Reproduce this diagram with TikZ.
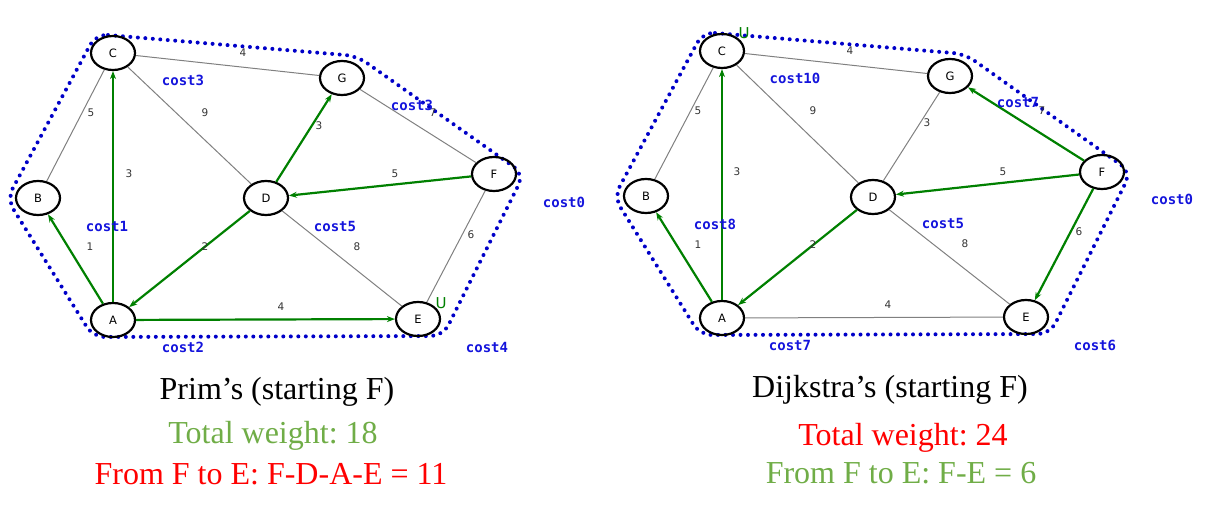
\documentclass[tikz,border=0pt]{standalone}
\usepackage{fontspec}
\setmainfont{Liberation Serif}
\newfontfamily\nodefont{DejaVu Sans}
\newfontfamily\costfont{DejaVu Sans Mono}
\usetikzlibrary{shapes.geometric,arrows.meta}
\definecolor{treegreen}{RGB}{0,128,0}
\definecolor{costblue}{RGB}{20,20,220}
\definecolor{dotblue}{RGB}{0,0,200}
\definecolor{txtgreen}{RGB}{112,173,71}
\definecolor{txtred}{RGB}{255,0,0}
\frenchspacing
\begin{document}
\begin{tikzpicture}[x=1pt,y=-1pt,
  vtx/.style={ellipse, draw, line width=2.2pt, minimum width=44pt, minimum height=34pt, inner sep=0pt, font=\nodefont\fontsize{11.5}{12}\selectfont},
  ge/.style={draw=gray, line width=1pt},
  tr/.style={draw=treegreen, line width=2.2pt, -{Stealth[length=8pt,width=6pt]}},
  wt/.style={font=\nodefont\fontsize{10.5}{11}\selectfont, text=black!80, inner sep=0pt},
  cst/.style={font=\costfont\bfseries\fontsize{14}{14}\selectfont, text=costblue, inner sep=0pt},
  ulab/.style={font=\nodefont\fontsize{15}{15}\selectfont, text=treegreen, inner sep=0pt},
  hull/.style={draw=dotblue, line width=4pt, line cap=round, dash pattern=on 0pt off 7.5pt, rounded corners=12pt},
  title/.style={font=\fontsize{32}{36}\selectfont, anchor=base, inner sep=0pt}]
\useasboundingbox (0,0) rectangle (1213,513);

% ---------- Left: Prim ----------
\draw[hull] (96,34) -- (357,56) -- (524,174) -- (443,336) -- (93,337) -- (7,199) -- cycle;
\node[vtx] (lA) at (113,320) {A};
\node[vtx] (lB) at (38,198) {B};
\node[vtx] (lC) at (113,53) {C};
\node[vtx] (lD) at (266,198) {D};
\node[vtx] (lE) at (418,319) {E};
\node[vtx] (lF) at (494,174) {F};
\node[vtx] (lG) at (342,78) {G};
\draw[ge] (lC) -- (lG);
\draw[ge] (lC) -- (lB);
\draw[ge] (lC) -- (lD);
\draw[ge] (lG) -- (lF);
\draw[ge] (lD) -- (lE);
\draw[ge] (lF) -- (lE);
\draw[tr] (lA) -- (lC);
\draw[tr] (lA) -- (lB);
\draw[tr] (lD) -- (lA);
\draw[tr] (lA) -- (lE);
\draw[tr] (lD) -- (lG);
\draw[tr] (lF) -- (lD);
\node[wt] (lw1) at (243,53) {4};
\node[wt] (lw2) at (205,113) {9};
\node[wt] (lw3) at (91,113) {5};
\node[wt] (lw4) at (129,174) {3};
\node[wt] (lw5) at (319,126) {3};
\node[wt] (lw6) at (433,113) {7};
\node[wt] (lw7) at (395,174) {5};
\node[wt] (lw8) at (90,247) {1};
\node[wt] (lw9) at (205,247) {2};
\node[wt] (lw10) at (281,307) {4};
\node[wt] (lw11) at (357,247) {8};
\node[wt] (lw12) at (471,235) {6};
\node[cst] (lc1) at (183,80) {cost3};
\node[cst] (lc2) at (412,105) {cost3};
\node[cst] (lc3) at (107,226) {cost1};
\node[cst] (lc4) at (183,347) {cost2};
\node[cst] (lc5) at (335,226) {cost5};
\node[cst] (lc6) at (487,347) {cost4};
\node[cst] (lc7) at (564,202) {cost0};
\node[ulab] (lu) at (441,303) {U};

% ---------- Right: Dijkstra ----------
\draw[hull] (703,32) -- (965,54) -- (1131,172) -- (1050,334) -- (700,335) -- (614,197) -- cycle;
\node[vtx] (rA) at (722,318) {A};
\node[vtx] (rB) at (646,196) {B};
\node[vtx] (rC) at (722,51) {C};
\node[vtx] (rD) at (873,197) {D};
\node[vtx] (rE) at (1026,317) {E};
\node[vtx] (rF) at (1102,172) {F};
\node[vtx] (rG) at (950,76) {G};
\draw[ge] (rC) -- (rG);
\draw[ge] (rC) -- (rB);
\draw[ge] (rC) -- (rD);
\draw[ge] (rG) -- (rD);
\draw[ge] (rD) -- (rE);
\draw[ge] (rA) -- (rE);
\draw[tr] (rA) -- (rC);
\draw[tr] (rA) -- (rB);
\draw[tr] (rD) -- (rA);
\draw[tr] (rF) -- (rG);
\draw[tr] (rF) -- (rD);
\draw[tr] (rF) -- (rE);
\node[wt] (rw1) at (850,51) {4};
\node[wt] (rw2) at (813,111) {9};
\node[wt] (rw3) at (698,111) {5};
\node[wt] (rw4) at (737,172) {3};
\node[wt] (rw5) at (927,123) {3};
\node[wt] (rw6) at (1042,111) {7};
\node[wt] (rw7) at (1003,172) {5};
\node[wt] (rw8) at (698,245) {1};
\node[wt] (rw9) at (813,245) {2};
\node[wt] (rw10) at (888,305) {4};
\node[wt] (rw11) at (965,244) {8};
\node[wt] (rw12) at (1079,232) {6};
\node[cst] (rc1) at (795,78) {cost10};
\node[cst] (rc2) at (1018,102) {cost7};
\node[cst] (rc3) at (715,224) {cost8};
\node[cst] (rc4) at (790,345) {cost7};
\node[cst] (rc5) at (943,223) {cost5};
\node[cst] (rc6) at (1095,345) {cost6};
\node[cst] (rc7) at (1172,199) {cost0};
\node[ulab] (ru) at (744,33) {U};

% ---------- Captions ----------
\node[title] (t1) at (277,399) {Prim’s (starting F)};
\node[title, text=txtgreen] (t2) at (273,443) {Total weight: 18};
\node[title, text=txtred] (t3) at (271,484) {From F to E: F-D-A-E = 11};
\node[title] (t4) at (890,397) {Dijkstra’s (starting F)};
\node[title, text=txtred] (t5) at (903,445) {Total weight: 24};
\node[title, text=txtgreen] (t6) at (901,483) {From F to E: F-E = 6};
\end{tikzpicture}
\end{document}
